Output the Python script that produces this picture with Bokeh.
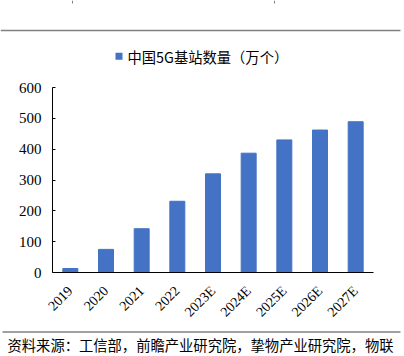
import math
from bokeh.plotting import figure
from bokeh.layouts import column, row
from bokeh.models import FactorRange, FixedTicker, Range1d
from bokeh.core.properties import value
from bokeh.embed import file_html
from bokeh.resources import INLINE

years = ["2019", "2020", "2021", "2022", "2023E", "2024E", "2025E", "2026E", "2027E"]
stations = [13, 75, 142, 231, 320, 387, 430, 462, 489]
y_ticks = [0, 100, 200, 300, 400, 500, 600]
legend_text = "中国5G基站数量（万个）"
source_text = "资料来源：工信部，前瞻产业研究院，挚物产业研究院，物联"

W = 404
HEAD_H, FOOT_H = 80, 28


def blank(h):
    f = figure(width=W, height=h, x_range=Range1d(0, W), y_range=Range1d(h, 0),
               output_backend="svg", toolbar_location=None,
               x_axis_location=None, y_axis_location=None,
               min_border=0, min_border_left=0, min_border_right=0,
               min_border_top=0, min_border_bottom=0)
    f.grid.visible = False
    f.outline_line_color = None
    f.background_fill_color = "white"
    f.border_fill_color = "white"
    return f


head = blank(HEAD_H)
head.segment(x0=[0], y0=[30], x1=[400], y1=[30], line_color="#808080", line_width=1.5)
head.segment(x0=[72, 274], y0=[0, 0], x1=[72, 274], y1=[3, 3], line_color="#808080", line_width=1)
head.rect(x=[118.5], y=[55.8], width=7, height=7, fill_color="#4472C4", line_color=None)
head.text(x=[127], y=[55.5], text=[legend_text], text_font=value("Noto Sans CJK SC"),
          text_font_size="14.3px", text_baseline="middle", text_color="black")

p = figure(frame_width=321, frame_height=185, x_range=FactorRange(*years), y_range=(0, 600),
           output_backend="svg", toolbar_location=None,
           min_border_left=52, min_border_right=31, min_border_top=7, min_border_bottom=56)
p.vbar(x=years, top=stations, width=0.42, color="#4472C4")

p.grid.visible = False
p.outline_line_color = None
p.background_fill_color = "white"
p.border_fill_color = "white"

p.yaxis.ticker = FixedTicker(ticks=y_ticks)
p.yaxis.axis_line_color = "black"
p.yaxis.major_tick_in = 3
p.yaxis.major_tick_out = 0
p.yaxis.minor_tick_line_color = None
p.yaxis.major_label_text_font = "Liberation Serif"
p.yaxis.major_label_text_font_size = "15px"
p.yaxis.major_label_text_color = "black"
p.yaxis.major_label_standoff = 11

p.xaxis.axis_line_color = "black"
p.xaxis.major_tick_line_color = None
p.xaxis.major_label_orientation = math.pi / 4
p.xaxis.major_label_text_font = "Liberation Serif"
p.xaxis.major_label_text_font_size = "14px"
p.xaxis.major_label_text_color = "black"
p.xaxis.major_label_standoff = 10

foot = blank(FOOT_H)
foot.segment(x0=[2], y0=[3.5], x1=[400], y1=[3.5], line_color="#808080", line_width=1.5)
foot.text(x=[7], y=[16], text=[source_text], text_font=value("Noto Sans CJK SC"),
          text_font_size="14.3px", text_baseline="middle", text_color="black")

layout = column(row(head, spacing=0), row(p, spacing=0), row(foot, spacing=0), spacing=0)
open("out.html", "w").write(file_html(layout, INLINE))
